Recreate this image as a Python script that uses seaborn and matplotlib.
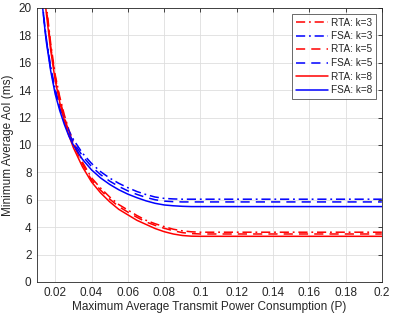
import numpy as np
import pandas as pd
import matplotlib
matplotlib.use('Agg')
import matplotlib.pyplot as plt
import seaborn as sns

# x grid (maximum average transmit power)
P = [0.012, 0.013, 0.014, 0.015, 0.0175, 0.02, 0.0225, 0.025, 0.0275, 0.03,
     0.035, 0.04, 0.045, 0.05, 0.055, 0.06, 0.065, 0.07, 0.075, 0.08,
     0.085, 0.09, 0.095, 0.1, 0.2]

rta_k3 = [25.3, 23.4, 21.8, 20.3, 17.4, 15.1, 13.5, 12.2, 11.1, 10.2,
          8.75, 7.6, 6.85, 6.2, 5.65, 5.25, 4.85, 4.5, 4.25, 4.04,
          3.85, 3.73, 3.66, 3.63, 3.63]
rta_k5 = [25.1, 23.2, 21.6, 20.1, 17.2, 14.95, 13.35, 12.05, 10.95, 10.05,
          8.6, 7.45, 6.7, 6.05, 5.5, 5.1, 4.72, 4.38, 4.13, 3.92,
          3.74, 3.6, 3.53, 3.5, 3.5]
rta_k8 = [24.8, 22.8, 21.2, 19.7, 16.9, 14.7, 13.1, 11.8, 10.7, 9.8,
          8.4, 7.3, 6.5, 5.85, 5.3, 4.9, 4.5, 4.2, 3.9, 3.67,
          3.5, 3.39, 3.34, 3.33, 3.33]
fsa_k3 = [21.9, 20.3, 19.0, 17.85, 15.7, 14.05, 12.85, 11.9, 11.05, 10.4,
          9.4, 8.65, 8.05, 7.58, 7.2, 6.88, 6.6, 6.38, 6.2, 6.1,
          6.06, 6.04, 6.04, 6.04, 6.04]
fsa_k5 = [21.8, 20.2, 18.9, 17.75, 15.55, 13.9, 12.7, 11.7, 10.85, 10.2,
          9.2, 8.42, 7.83, 7.36, 6.97, 6.65, 6.39, 6.17, 6.0, 5.9,
          5.86, 5.84, 5.84, 5.84, 5.84]
fsa_k8 = [21.7, 20.1, 18.8, 17.6, 15.4, 13.7, 12.5, 11.5, 10.65, 9.99,
          8.95, 8.18, 7.59, 7.12, 6.73, 6.41, 6.15, 5.92, 5.74, 5.62,
          5.56, 5.52, 5.5, 5.5, 5.5]

series = [
    ('RTA: k=3', rta_k3, 'red', (0, (6, 2.5, 1.2, 2.5))),
    ('FSA: k=3', fsa_k3, 'blue', (0, (6, 2.5, 1.2, 2.5))),
    ('RTA: k=5', rta_k5, 'red', (0, (6, 4))),
    ('FSA: k=5', fsa_k5, 'blue', (0, (6, 4))),
    ('RTA: k=8', rta_k8, 'red', '-'),
    ('FSA: k=8', fsa_k8, 'blue', '-'),
]

sns.set_style('white')
plt.rcParams['font.family'] = ['Liberation Sans', 'DejaVu Sans']
txt = '#262626'

fig = plt.figure(figsize=(3.99, 3.20), dpi=100)
ax = fig.add_axes([0.093, 0.119, 0.864, 0.856])

for name, vals, col, ls in series:
    df = pd.DataFrame({'P': P, 'AoI': vals})
    sns.lineplot(data=df, x='P', y='AoI', ax=ax, color=col, linestyle=ls,
                 linewidth=1.1, label=name)

ax.set_xlim(0.01, 0.2)
ax.set_ylim(0, 20)
ax.set_xticks(np.arange(0.02, 0.201, 0.02))
ax.set_xticklabels(['0.02', '0.04', '0.06', '0.08', '0.1', '0.12', '0.14',
                    '0.16', '0.18', '0.2'])
ax.set_yticks(np.arange(0, 21, 2))
ax.grid(True, color='#dedede', linewidth=0.6)
ax.tick_params(direction='in', length=3, width=0.6, labelsize=8.5,
               colors=txt, top=True, right=True, pad=4)
for s in ax.spines.values():
    s.set_color(txt)
    s.set_linewidth(0.6)

ax.set_xlabel('Maximum Average Transmit Power Consumption (P)', fontsize=8.5,
              color=txt, labelpad=1)
ax.set_ylabel('Minimum Average AoI (ms)', fontsize=8.5, color=txt, labelpad=3)

leg = ax.legend(loc='upper right', fontsize=7.2, frameon=True, fancybox=False,
                handlelength=3.2, handletextpad=0.3, borderpad=0.35,
                labelspacing=0.35, borderaxespad=0.6)
leg.get_frame().set_edgecolor(txt)
leg.get_frame().set_linewidth(0.6)
for t in leg.get_texts():
    t.set_color(txt)

fig.savefig('out.png', dpi=100)
